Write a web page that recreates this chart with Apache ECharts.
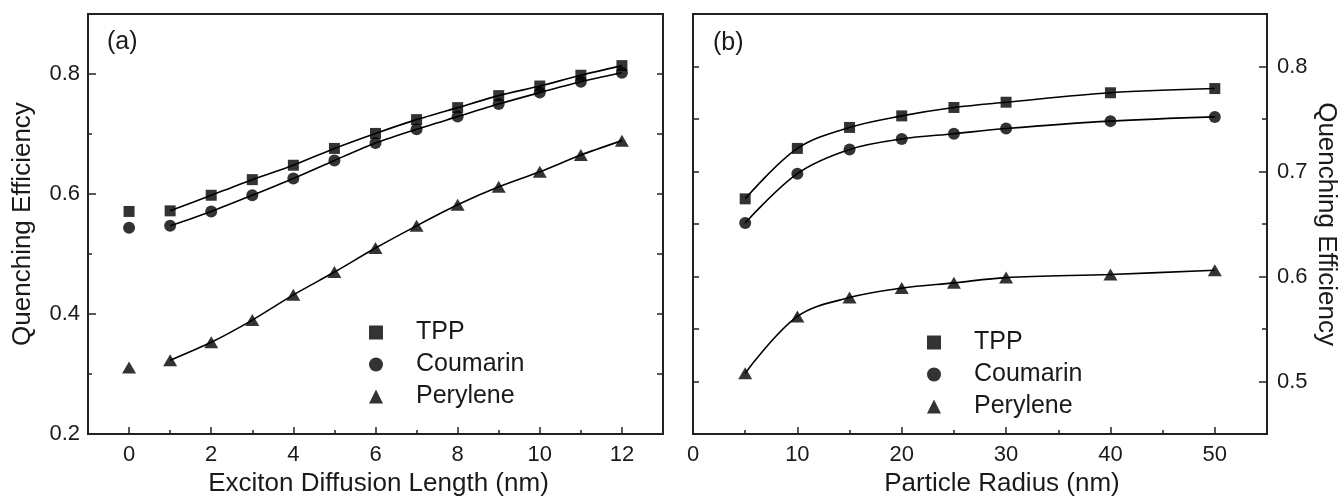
<!DOCTYPE html>
<html>
<head>
<meta charset="utf-8">
<script src="https://cdn.jsdelivr.net/npm/echarts@6/dist/echarts.min.js"></script>
<style>
html,body{margin:0;padding:0;background:#fff;}
#chart{width:1341px;height:502px;}
</style>
</head>
<body>
<div id="chart"></div>
<script>
// ---- data ----
const seriesNames = ['TPP', 'Coumarin', 'Perylene'];
const excitonLength = [0, 1, 2, 3, 4, 5, 6, 7, 8, 9, 10, 11, 12];
const tppA = [0.571, 0.572, 0.598, 0.624, 0.648, 0.676, 0.701, 0.724, 0.744, 0.764, 0.780, 0.798, 0.814];
const coumarinA = [0.544, 0.547, 0.571, 0.598, 0.626, 0.656, 0.685, 0.708, 0.729, 0.750, 0.769, 0.787, 0.802];
const peryleneA = [0.311, 0.323, 0.353, 0.390, 0.432, 0.470, 0.510, 0.547, 0.582, 0.612, 0.637, 0.665, 0.689];

const particleRadius = [5, 10, 15, 20, 25, 30, 40, 50];
const tppB = [0.674, 0.722, 0.742, 0.753, 0.761, 0.766, 0.775, 0.779];
const coumarinB = [0.651, 0.698, 0.721, 0.731, 0.736, 0.741, 0.748, 0.752];
const peryleneB = [0.508, 0.562, 0.580, 0.589, 0.594, 0.599, 0.602, 0.606];

const xTicksA = [0, 2, 4, 6, 8, 10, 12];
const xMinorA = [1, 3, 5, 7, 9, 11];
const yTicksA = [0.2, 0.4, 0.6, 0.8];
const yMinorA = [0.3, 0.5, 0.7];
const yMirrorA = [0.3, 0.4, 0.5, 0.6, 0.7, 0.8];

const xLabelsB = [0, 10, 20, 30, 40, 50];
const xTicksB = [10, 20, 30, 40, 50];
const xMinorB = [5, 15, 25, 35, 45];
const yTicksB = [0.5, 0.6, 0.7, 0.8];
const yMinorB = [0.55, 0.65, 0.75];
const yMirrorB = [0.5, 0.55, 0.6, 0.65, 0.7, 0.75, 0.8];

// ---- style ----
const FONT = 'Liberation Sans, Arial, sans-serif';
const INK = '#1a1a1a';
const FRAME = '#222';
const symbols = ['rect', 'circle', 'triangle'];
const symbolSizes = [11, 12, [14, 12]];

const chart = echarts.init(document.getElementById('chart'), null, {renderer: 'canvas'});

function pairs(xs, ys, from) {
  const out = [];
  for (let i = from || 0; i < xs.length; i++) out.push([xs[i], ys[i]]);
  return out;
}

function tickAxis(opts) {
  return Object.assign({
    type: 'value',
    splitLine: {show: false},
    axisLine: {show: false, onZero: false},
    axisLabel: {show: false},
    axisTick: {show: true, inside: true, length: 4, lineStyle: {color: FRAME, width: 1.5}}
  }, opts);
}

const series = [];
const dataA = [tppA, coumarinA, peryleneA];
const dataB = [tppB, coumarinB, peryleneB];
dataA.forEach((ys, i) => {
  series.push({
    name: seriesNames[i] + ' fit a', type: 'line', xAxisIndex: 0, yAxisIndex: 0,
    data: pairs(excitonLength, ys, 1), showSymbol: false, symbol: 'none', smooth: 0.25,
    lineStyle: {color: '#000', width: 1.6}, z: 2, silent: true
  });
  series.push({
    name: seriesNames[i], type: 'scatter', xAxisIndex: 0, yAxisIndex: 0,
    data: pairs(excitonLength, ys), symbol: symbols[i], symbolSize: symbolSizes[i],
    itemStyle: {color: '#000'}, z: 3
  });
});
dataB.forEach((ys, i) => {
  series.push({
    name: seriesNames[i] + ' fit b', type: 'line', xAxisIndex: 2, yAxisIndex: 3,
    data: pairs(particleRadius, ys), showSymbol: false, symbol: 'none', smooth: 0.35,
    lineStyle: {color: '#000', width: 1.6}, z: 2, silent: true
  });
  series.push({
    name: seriesNames[i], type: 'scatter', xAxisIndex: 2, yAxisIndex: 3,
    data: pairs(particleRadius, ys), symbol: symbols[i], symbolSize: symbolSizes[i],
    itemStyle: {color: '#000'}, z: 3
  });
});

const legendCommon = {
  orient: 'vertical',
  data: seriesNames,
  itemWidth: 14, itemHeight: 14, itemGap: 7, padding: 0,
  selectedMode: false,
  formatter: '{p|}{name}',
  textStyle: {fontFamily: FONT, fontSize: 25, color: INK, lineHeight: 25,
    rich: {p: {width: 28}}}
};

const option = {
  backgroundColor: '#fff',
  animation: false,
  grid: [
    {left: 88, top: 14, width: 575, height: 426, show: true, borderColor: FRAME, borderWidth: 2, backgroundColor: 'transparent'},
    {left: 693, top: 14, width: 574, height: 427, show: true, borderColor: FRAME, borderWidth: 2, backgroundColor: 'transparent'}
  ],
  xAxis: [
    {
      type: 'value', gridIndex: 0, min: -1, max: 13, interval: 1, position: 'bottom',
      name: 'Exciton Diffusion Length (nm)', nameLocation: 'middle', nameGap: 27,
      nameTextStyle: {fontFamily: FONT, fontSize: 26, color: INK, padding: [0, 0, 0, 6]},
      splitLine: {show: false},
      axisLine: {show: true, onZero: false, lineStyle: {color: FRAME, width: 2}},
      axisTick: {show: true, inside: true, length: 7, customValues: xTicksA, lineStyle: {color: FRAME, width: 1.5}},
      axisLabel: {show: true, margin: 10, customValues: xTicksA, fontFamily: FONT, fontSize: 22, color: INK,
        formatter: v => String(Math.round(v))}
    },
    tickAxis({gridIndex: 0, min: -1, max: 13, interval: 1, position: 'bottom',
      axisTick: {show: true, inside: true, length: 4, customValues: xMinorA, lineStyle: {color: FRAME, width: 1.5}}}),
    {
      type: 'value', gridIndex: 1, min: 0, max: 55, interval: 5, position: 'bottom',
      name: 'Particle Radius (nm)', nameLocation: 'middle', nameGap: 27,
      nameTextStyle: {fontFamily: FONT, fontSize: 26, color: INK, padding: [0, 0, 0, 44]},
      splitLine: {show: false},
      axisLine: {show: true, onZero: false, lineStyle: {color: FRAME, width: 2}},
      axisTick: {show: true, inside: true, length: 7, customValues: xTicksB, lineStyle: {color: FRAME, width: 1.5}},
      axisLabel: {show: true, margin: 10, customValues: xLabelsB, fontFamily: FONT, fontSize: 22, color: INK,
        formatter: v => String(Math.round(v))}
    },
    tickAxis({gridIndex: 1, min: 0, max: 55, interval: 5, position: 'bottom',
      axisTick: {show: true, inside: true, length: 4, customValues: xMinorB, lineStyle: {color: FRAME, width: 1.5}}})
  ],
  yAxis: [
    {
      type: 'value', gridIndex: 0, min: 0.2, max: 0.9, interval: 0.1, position: 'left',
      name: 'Quenching Efficiency', nameLocation: 'middle', nameGap: 52,
      nameTextStyle: {fontFamily: FONT, fontSize: 26, color: INK},
      splitLine: {show: false},
      axisLine: {show: true, onZero: false, lineStyle: {color: FRAME, width: 2}},
      axisTick: {show: true, inside: true, length: 8, customValues: yTicksA, lineStyle: {color: FRAME, width: 1.5}},
      axisLabel: {show: true, margin: 8, customValues: yTicksA, fontFamily: FONT, fontSize: 22, color: INK,
        formatter: v => v.toFixed(1)}
    },
    tickAxis({gridIndex: 0, min: 0.2, max: 0.9, interval: 0.1, position: 'left',
      axisTick: {show: true, inside: true, length: 4, customValues: yMinorA, lineStyle: {color: FRAME, width: 1.5}}}),
    tickAxis({gridIndex: 0, min: 0.2, max: 0.9, interval: 0.1, position: 'right',
      axisTick: {show: true, inside: true, length: 6, customValues: yMirrorA, lineStyle: {color: FRAME, width: 1.5}}}),
    {
      type: 'value', gridIndex: 1, min: 0.45, max: 0.85, interval: 0.05, position: 'right',
      name: 'Quenching Efficiency', nameLocation: 'middle', nameGap: 46, nameRotate: -90,
      nameTextStyle: {fontFamily: FONT, fontSize: 26, color: INK},
      splitLine: {show: false},
      axisLine: {show: true, onZero: false, lineStyle: {color: FRAME, width: 2}},
      axisTick: {show: true, inside: true, length: 8, customValues: yTicksB, lineStyle: {color: FRAME, width: 1.5}},
      axisLabel: {show: true, margin: 10, customValues: yTicksB, fontFamily: FONT, fontSize: 22, color: INK,
        formatter: v => v.toFixed(1)}
    },
    tickAxis({gridIndex: 1, min: 0.45, max: 0.85, interval: 0.05, position: 'right',
      axisTick: {show: true, inside: true, length: 5, customValues: yMinorB, lineStyle: {color: FRAME, width: 1.5}}}),
    tickAxis({gridIndex: 1, min: 0.45, max: 0.85, interval: 0.05, position: 'left',
      axisTick: {show: true, inside: true, length: 6, customValues: yMirrorB, lineStyle: {color: FRAME, width: 1.5}}})
  ],
  legend: [
    Object.assign({left: 369, top: 320}, legendCommon),
    Object.assign({left: 927, top: 330}, legendCommon)
  ],
  graphic: [
    {type: 'text', left: 107, top: 30, style: {text: '(a)', font: '25px ' + FONT, fill: INK}},
    {type: 'text', left: 713, top: 31, style: {text: '(b)', font: '25px ' + FONT, fill: INK}}
  ],
  series: series
};

chart.setOption(option);
</script>
</body>
</html>
